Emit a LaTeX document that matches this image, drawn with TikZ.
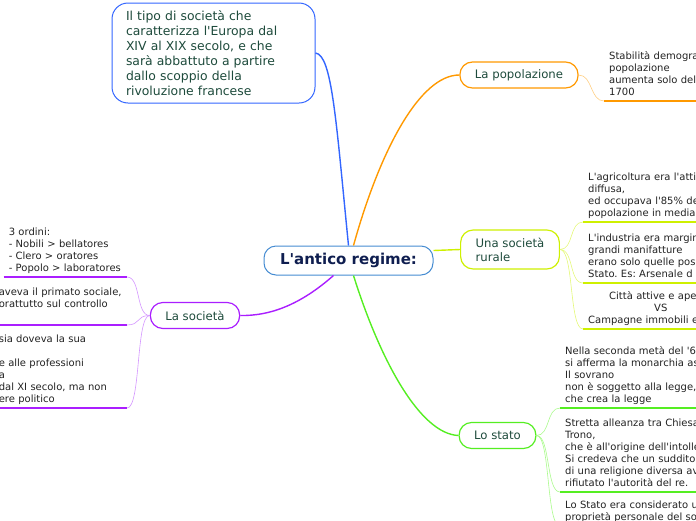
\documentclass[tikz,border=0pt]{standalone}
\usepackage{fontspec}
\setmainfont{DejaVu Sans}[Ligatures=TeXOff]
\usetikzlibrary{positioning}
\frenchspacing
\definecolor{MapBlue}{RGB}{51,102,255}
\definecolor{RootBorder}{RGB}{70,140,210}
\definecolor{RootText}{RGB}{15,30,80}
\definecolor{TopicText}{RGB}{30,75,60}
\definecolor{LeafText}{RGB}{34,34,34}
\definecolor{MapOrange}{RGB}{255,153,0}
\definecolor{MapOrangeLight}{RGB}{255,206,130}
\definecolor{MapLime}{RGB}{206,240,0}
\definecolor{MapLimeLight}{RGB}{228,248,120}
\definecolor{MapPurple}{RGB}{170,30,255}
\definecolor{MapPurpleLight}{RGB}{212,150,255}
\definecolor{MapGreen}{RGB}{85,238,34}
\definecolor{MapGreenLight}{RGB}{170,250,140}

\begin{document}
\begin{tikzpicture}[
x=1pt,y=-1pt,
root/.style={
  rectangle,
  rounded corners=12pt,
  draw=RootBorder,
  line width=1pt,
  fill=white,
  minimum width=169pt,
  minimum height=29pt,
  inner sep=0pt,
  text=RootText,
  font=\fontsize{15}{17}\selectfont\bfseries
},
note/.style={
  rectangle,
  rounded corners=16pt,
  draw=MapBlue,
  line width=1pt,
  fill=white,
  minimum width=203pt,
  minimum height=100pt,
  text width=175pt,
  align=left,
  text=TopicText,
  font=\fontsize{12.4}{15}\selectfont
},
topic/.style={
  rectangle,
  rounded corners=12.5pt,
  line width=1.2pt,
  fill=white,
  minimum height=26pt,
  inner xsep=15pt,
  inner ysep=0pt,
  align=left,
  text=TopicText,
  font=\fontsize{11.7}{14}\selectfont
},
leaf/.style={
  inner xsep=5pt,
  inner ysep=2pt,
  align=left,
  text=LeafText,
  font=\fontsize{10}{12}\selectfont,
  execute at end node=\strut
},
branch/.style={line width=1.4pt},
twig/.style={line width=0.6pt},
under/.style={line width=2pt}
]
\useasboundingbox (0,0) rectangle (696,520);
\clip (0,0) rectangle (696,520);

\node[root] (root) at (348.5,260.5) {L'antico regime:};
\node[note] (intro) at (213.5,53) {Il tipo di società che\\caratterizza l'Europa dal\\XIV al XIX secolo, e che\\sarà abbattuto a partire\\dallo scoppio della\\rivoluzione francese};
\node[topic,draw=MapOrange] (pop) at (519,75) {La popolazione};
\node[topic,draw=MapLime,minimum height=39pt] (rur) at (510,249.5) {Una società\\rurale};
\node[topic,draw=MapPurple] (soc) at (195,315.5) {La società};
\node[topic,draw=MapGreen] (sta) at (497.5,435.5) {Lo stato};

\draw[branch,MapBlue] (root.north) .. controls (336,120) and (332,55) .. (intro.east);
\draw[branch,MapOrange] ([xshift=5pt]root.north) .. controls (380,150) and (420,75) .. (pop.west);
\draw[branch,MapLime] ([yshift=10pt]root.east) -- (rur.west);
\draw[branch,MapPurple] ([xshift=-15pt]root.south) .. controls (300,305) and (270,316) .. (soc.east);
\draw[branch,MapGreen] ([xshift=5pt]root.south) .. controls (380,360) and (420,434) .. (sta.west);

\node[leaf,anchor=south west,text width=150pt] (p1) at (604,101) {Stabilità demogra\\popolazione\\aumenta solo del\\1700};

\node[leaf,anchor=south west,text width=150pt] (r1) at (583,222) {L'agricoltura era l'atti\\diffusa,\\ed occupava l'85\% de\\popolazione in media};
\node[leaf,anchor=south west,text width=150pt] (r2) at (583,283) {L'industria era margin\\grandi manifatture\\erano solo quelle pos\\Stato. Es: Arsenale d};
\node[leaf,anchor=south west,text width=150pt] (r3) at (583,329) {\hspace*{21pt}Città attive e ape\\\hspace*{66pt}VS\\Campagne immobili e};

\node[leaf,anchor=south east,text width=113pt] (s1) at (127,277) {3 ordini:\\- Nobili > bellatores\\- Clero > oratores\\- Popolo > laboratores};
\node[leaf,anchor=south east,text width=123pt] (s2) at (127,325) {aveva il primato sociale,\\orattutto sul controllo\\\mbox{}};
\node[leaf,anchor=south east,text width=123pt] (s3) at (127,408) {sia doveva la sua\\\mbox{}\\e alle professioni\\a\\dal XI secolo, ma non\\ere politico};

\node[leaf,anchor=south west,text width=150pt] (g1) at (560,408) {Nella seconda metà del '6\\si afferma la monarchia as\\Il sovrano\\non è soggetto alla legge,\\che crea la legge};
\node[leaf,anchor=south west,text width=150pt] (g2) at (560,492) {Stretta alleanza tra Chiesa\\Trono,\\che è all'origine dell'intolle\\Si credeva che un suddito\\di una religione diversa av\\rifiutato l'autorità del re.};
\node[leaf,anchor=south west,text width=150pt] (g3) at (560,526) {Lo Stato era considerato u\\proprietà personale del so};

\draw[twig,MapOrangeLight] (pop.east) .. controls +(14,0) and +(-14,0) .. (p1.south west);
\draw[under,MapOrange] (p1.south west) -- (p1.south east);

\draw[twig,MapLimeLight] (rur.east) .. controls +(14,0) and +(-14,0) .. (r1.south west);
\draw[twig,MapLimeLight] (rur.east) .. controls +(14,0) and +(-14,0) .. (r2.south west);
\draw[twig,MapLimeLight] (rur.east) .. controls +(14,0) and +(-14,0) .. (r3.south west);
\draw[under,MapLime] (r1.south west) -- (r1.south east);
\draw[under,MapLime] (r2.south west) -- (r2.south east);
\draw[under,MapLime] (r3.south west) -- (r3.south east);

\draw[twig,MapPurpleLight] (soc.west) .. controls +(-14,0) and +(14,0) .. (s1.south east);
\draw[twig,MapPurpleLight] (soc.west) .. controls +(-14,0) and +(14,0) .. (s2.south east);
\draw[twig,MapPurpleLight] (soc.west) .. controls +(-14,0) and +(14,0) .. (s3.south east);
\draw[under,MapPurple] (s1.south west) -- (s1.south east);
\draw[under,MapPurple] (s2.south west) -- (s2.south east);
\draw[under,MapPurple] (s3.south west) -- (s3.south east);

\draw[twig,MapGreenLight] (sta.east) .. controls +(14,0) and +(-14,0) .. (g1.south west);
\draw[twig,MapGreenLight] (sta.east) .. controls +(14,0) and +(-14,0) .. (g2.south west);
\draw[twig,MapGreenLight] (sta.east) .. controls +(14,0) and +(-14,0) .. (g3.south west);
\draw[under,MapGreen] (g1.south west) -- (g1.south east);
\draw[under,MapGreen] (g2.south west) -- (g2.south east);
\draw[under,MapGreen] (g3.south west) -- (g3.south east);
\end{tikzpicture}
\end{document}
